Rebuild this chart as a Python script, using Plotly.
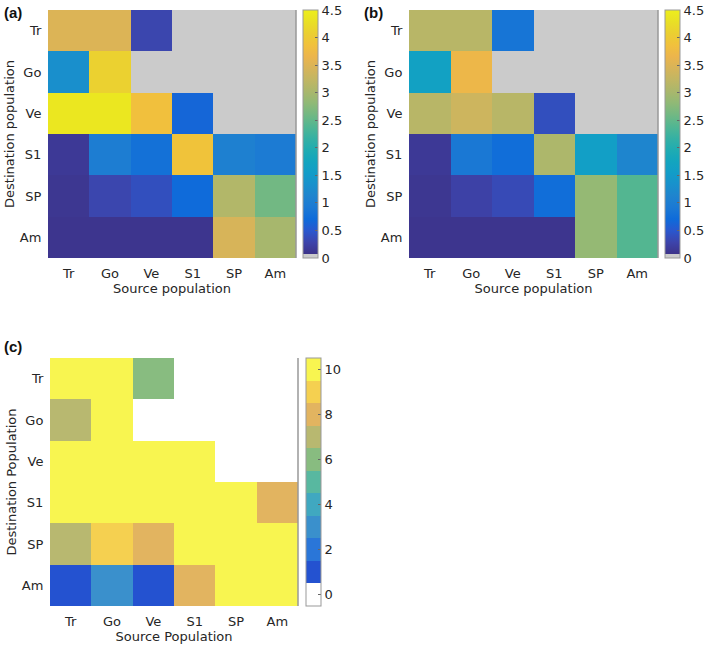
import plotly.graph_objects as go

# populations (columns = source, rows = destination)
pops = ["Tr", "Go", "Ve", "S1", "SP", "Am"]

# panel (a), 0 = not defined (grey)
za = [
    [3.5, 3.5, 0.3, 0, 0, 0],
    [1.3, 4.1, 0, 0, 0, 0],
    [4.4, 4.4, 3.85, 0.65, 0, 0],
    [0.15, 1.0, 0.8, 3.9, 1.05, 0.95],
    [0.12, 0.3, 0.4, 0.7, 3.1, 2.6],
    [0.1, 0.1, 0.1, 0.1, 3.45, 3.0],
]

# panel (b)
zb = [
    [3.15, 3.15, 0.85, 0, 0, 0],
    [1.65, 3.7, 0, 0, 0, 0],
    [3.15, 3.35, 3.15, 0.4, 0, 0],
    [0.15, 0.9, 0.75, 3.05, 1.6, 1.15],
    [0.12, 0.25, 0.35, 0.75, 2.85, 2.4],
    [0.1, 0.1, 0.1, 0.1, 2.85, 2.4],
]

# panel (c), integer counts, 0 = none (white)
zc = [
    [10, 10, 6, 0, 0, 0],
    [7, 10, 0, 0, 0, 0],
    [10, 10, 10, 10, 0, 0],
    [10, 10, 10, 10, 10, 8],
    [7, 9, 8, 10, 10, 10],
    [1, 3, 1, 8, 10, 10],
]

cont_ticks = [0, 0.5, 1, 1.5, 2, 2.5, 3, 3.5, 4, 4.5]
cont_labels = ["0", "0.5", "1", "1.5", "2", "2.5", "3", "3.5", "4", "4.5"]
disc_ticks = [0, 2, 4, 6, 8, 10]

# parula (subsampled)
parula = [
    (0.2081, 0.1663, 0.5292), (0.2081, 0.2386, 0.6771), (0.1253, 0.3242, 0.8303),
    (0.0060, 0.4086, 0.8828), (0.0629, 0.4737, 0.8554), (0.0793, 0.5200, 0.8312),
    (0.0488, 0.5772, 0.8228), (0.0239, 0.6287, 0.8038), (0.0267, 0.6642, 0.7607),
    (0.0843, 0.6928, 0.7062), (0.1801, 0.7177, 0.6424), (0.3022, 0.7376, 0.5712),
    (0.4420, 0.7481, 0.5033), (0.5709, 0.7485, 0.4494), (0.6834, 0.7435, 0.4044),
    (0.7858, 0.7356, 0.3633), (0.8824, 0.7274, 0.3217), (0.9739, 0.7314, 0.2666),
    (0.9955, 0.7861, 0.1967), (0.9697, 0.8481, 0.1475), (0.9598, 0.9218, 0.0948),
    (0.9763, 0.9831, 0.0538),
]
tint = (0.5, 0.5, 0.6)
def rgb(c):
    # slightly washed out, like the printed figure
    return "rgb(%d,%d,%d)" % tuple(round((0.9 * v + 0.1 * t) * 255) for v, t in zip(c, tint))

g = 0.016
cs_cont = [[0, "#cbcbcb"], [g, "#cbcbcb"]]
n = len(parula)
for i, c in enumerate(parula):
    cs_cont.append([g + (1 - g) * i / (n - 1), rgb(c)])

disc_colors = ["#ffffff", "#2452d0", "#2a76d8", "#3a90cc", "#40a8c0", "#58b8a0",
               "#88bc80", "#b8b870", "#e2b460", "#f5d050", "#f8f550"]
cs_disc = []
for i, c in enumerate(disc_colors):
    cs_disc.append([i / 11, c])
    cs_disc.append([(i + 1) / 11, c])

W, H = 709, 647
MR = 36
PW = W - MR
def px(x):
    return x / PW
def py(y):
    return 1 - y / H

font = dict(family="DejaVu Sans", size=13, color="#262626")

fig = go.Figure()

panels = [
    # z, cs, zmin, zmax, x0, x1, ytop, ybot, cbx, ticks, labels
    (za, cs_cont, 0, 4.5, 48, 296, 10, 258, 303, cont_ticks, cont_labels, "x", "y"),
    (zb, cs_cont, 0, 4.5, 409, 658, 10, 258, 665, cont_ticks, cont_labels, "x2", "y2"),
    (zc, cs_disc, -0.5, 10.5, 50, 298, 358, 606, 306, disc_ticks, [str(t) for t in disc_ticks], "x3", "y3"),
]

for z, cs, zmin, zmax, x0, x1, yt, yb, cbx, tv, tt, xa, ya in panels:
    fig.add_trace(go.Heatmap(
        z=z, x=pops, y=pops, colorscale=cs, zmin=zmin, zmax=zmax,
        xaxis=xa, yaxis=ya, xgap=0, ygap=0,
        colorbar=dict(
            x=px(cbx), xanchor="left", y=py((yt + yb) / 2), yanchor="middle",
            len=yb - yt, lenmode="pixels", thickness=15, thicknessmode="pixels",
            outlinecolor="#999999", outlinewidth=1,
            tickvals=tv, ticktext=tt, ticks="inside", ticklen=3, tickcolor="#666666",
            tickfont=dict(family="DejaVu Sans", size=13, color="#262626"),
            xpad=0, ypad=0,
        ),
    ))
    fig.add_shape(type="line", xref="paper", yref="paper",
                  x0=px(x1), x1=px(x1), y0=py(yb), y1=py(yt),
                  line=dict(color="#999999", width=1.5))

ax_common = dict(showgrid=False, zeroline=False, showline=False, automargin=False,
                 ticks="outside", ticklen=3, tickcolor="rgba(0,0,0,0)",
                 tickfont=font)

titles = [("Source population", "Destination population"),
          ("Source population", "Destination population"),
          ("Source Population", "Destination Population")]
names = [("xaxis", "yaxis"), ("xaxis2", "yaxis2"), ("xaxis3", "yaxis3")]
anchors = [("y", "x"), ("y2", "x2"), ("y3", "x3")]

lay = {}
for p, (xt, ytt), (xn, yn), (xan, yan) in zip(panels, titles, names, anchors):
    x0, x1, yt, yb = p[4], p[5], p[6], p[7]
    lay[xn] = dict(ax_common, domain=[px(x0), px(x1)], anchor=xan,
                   title=dict(text=xt, font=font, standoff=2))
    lay[yn] = dict(ax_common, domain=[py(yb), py(yt)], anchor=yan,
                   autorange="reversed",
                   title=dict(text=ytt, font=font, standoff=2))

fig.update_layout(
    width=W, height=H, margin=dict(l=0, r=MR, t=0, b=0),
    paper_bgcolor="white", plot_bgcolor="white",
    showlegend=False, font=font, **lay,
)

for lab, x, y in [("(a)", 2, 12), ("(b)", 362, 12), ("(c)", 2, 346)]:
    fig.add_annotation(text="<b>%s</b>" % lab, xref="paper", yref="paper",
                       x=px(x), y=py(y), xanchor="left", yanchor="middle",
                       showarrow=False,
                       font=dict(family="Liberation Sans", size=15, color="#111111"))

# page has a default body margin; remove it so the figure sits at the window corner
fig.write_html("out.html", config={"displayModeBar": False},
               post_script="document.body.style.margin='0';")
